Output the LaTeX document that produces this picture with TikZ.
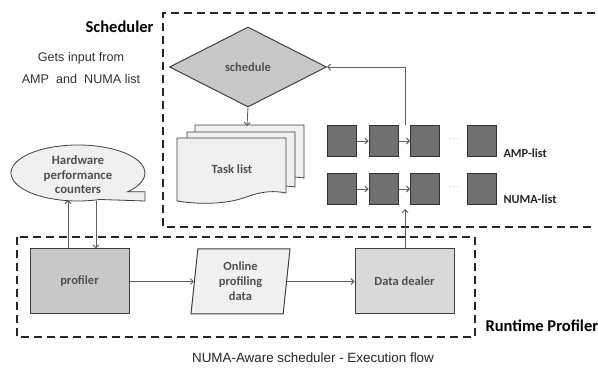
\documentclass[tikz,border=0pt]{standalone}
\usepackage{fontspec}
\setmainfont{Carlito}
\newfontfamily\arialfont{Liberation Sans}
\usetikzlibrary{arrows.meta,shapes.geometric}
\definecolor{edgegray}{HTML}{404040}
\definecolor{arrgray}{HTML}{606060}
\definecolor{midgray}{HTML}{C8C8C8}
\definecolor{lightgray2}{HTML}{D9D9D9}
\definecolor{palegray}{HTML}{F0F0F0}
\definecolor{sqgray}{HTML}{707070}
\definecolor{txtgray}{HTML}{505050}
\begin{document}
\begin{tikzpicture}[x=1pt,y=-1pt,
  groupbox/.style={draw=black!85, line width=2.2pt, dash pattern=on 8pt off 5pt},
  flowbox/.style={draw=edgegray, line width=1pt, text=txtgray, font=\fontsize{12.5}{14}\selectfont\bfseries},
  sq/.style={draw=black!80, line width=1pt, fill=sqgray, minimum width=29pt, minimum height=31pt, inner sep=0pt},
  conn/.style={draw=arrgray, line width=0.9pt, -{Straight Barb[length=3pt,width=6pt]}},
  grouplabel/.style={font=\fontsize{16.5}{18}\selectfont\bfseries, text=black},
  listlabel/.style={font=\fontsize{12.3}{14}\selectfont\bfseries, text=black!85, anchor=west}
]
\useasboundingbox (0,0) rectangle (598,374);
\fill[white] (0,0) rectangle (598,374);

% group frames
\draw[groupbox] (595,13) -- (163,13) -- (163,227) -- (595,227);
\draw[groupbox] (17,237) rectangle (475,337);
\node[grouplabel, anchor=east] (schedlbl) at (157,27) {Scheduler};
\node[grouplabel, anchor=west] (rtlbl) at (482,326) {Runtime Profiler};

% left note
\node[font=\arialfont\fontsize{12.6}{22}\selectfont, text=black!80, align=center] (note) at (81,68) {Gets input from\\AMP~~and~~NUMA list};

% diamond
\node[diamond, aspect=1.95, minimum width=157pt, minimum height=80pt, inner sep=0pt, flowbox, fill=midgray] (sched) at (248,67) {schedule};

% task list (stack of documents)
\begin{scope}[draw=edgegray, line width=0.8pt, fill=palegray]
\filldraw (195,125) -- (304,125) -- (304,178) .. controls (285,175) and (270,180) .. (258,183) -- (195,183) -- cycle;
\filldraw (187,132) -- (295,132) -- (295,187) .. controls (276,184) and (262,189) .. (250,192) -- (187,192) -- cycle;
\filldraw (177,138) -- (286,138) -- (286,193) .. controls (262,188) and (248,198) .. (232,201) .. controls (210,205) and (190,203) .. (177,201) -- cycle;
\end{scope}
\node[text=txtgray, font=\fontsize{12.5}{14}\selectfont\bfseries] (task) at (232,169) {Task list};
\coordinate (tasktop) at (247,126);

% AMP list
\node[sq] (a1) at (341.5,141) {};
\node[sq] (a2) at (383.5,141) {};
\node[sq] (a3) at (425,141) {};
\node[sq] (a4) at (481.5,141) {};
\node[text=gray, font=\small] (adots) at (454,139) {$\cdots$};
\node[listlabel] (amplbl) at (500,153) {AMP-list};
% NUMA list
\node[sq] (n1) at (341.5,189) {};
\node[sq] (n2) at (383.5,189) {};
\node[sq] (n3) at (425,189) {};
\node[sq] (n4) at (481.5,189) {};
\node[text=gray, font=\small] (ndots) at (454,187) {$\cdots$};
\node[listlabel] (numalbl) at (500,199) {NUMA-list};

\draw[conn] (a1.east) -- (a2.west);
\draw[conn] (a2.east) -- (a3.west);
\draw[conn] (n1.east) -- (n2.west);
\draw[conn] (n2.east) -- (n3.west);

% hardware counters callout
\filldraw[draw=edgegray, line width=0.8pt, fill=palegray]
  ({78+67*cos(71)},{173+28*sin(71)}) arc[start angle=71, end angle=402, x radius=67, y radius=28]
  -- (145,{173+28*sin(42)}) -- (145,201) -- cycle;
\node[text=txtgray, font=\fontsize{12.8}{14.5}\selectfont\bfseries, align=center] (hw) at (78,175) {Hardware\\performance\\counters};
\coordinate (hwa) at (68,200);
\coordinate (hwb) at (96,201);

% runtime profiler elements
\node[flowbox, fill=midgray, minimum width=99pt, minimum height=65pt, inner sep=0pt] (prof) at (79.5,281.5) {profiler};
\node[trapezium, trapezium left angle=80, trapezium right angle=100, flowbox, fill=palegray, minimum width=99pt, minimum height=65pt, inner sep=0pt, trapezium stretches body, align=center, font=\fontsize{12.5}{15}\selectfont\bfseries] (online) at (240.5,281.5) {Online\\profiling\\data};
\node[flowbox, fill=lightgray2, minimum width=99pt, minimum height=65pt, inner sep=0pt] (dealer) at (404.5,281.5) {Data dealer};

% connectors
\draw[conn] (sched.south) -- (tasktop);
\coordinate (upstart) at (405,125);
\draw[conn] (upstart) -- (405,67) -- (sched.east);
\draw[conn] (prof.east) -- (online.west);
\draw[conn] (online.east) -- (dealer.west);
\draw[conn] (dealer.north -| upstart) -- (405,209);
\draw[conn] (prof.north -| hwa) -- (hwa);
\draw[conn] (hwb) -- (prof.north -| hwb);

% caption
\node[font=\arialfont\fontsize{13.4}{15}\selectfont, text=black!85] (caption) at (313,358) {NUMA-Aware scheduler - Execution flow};
\end{tikzpicture}
\end{document}
